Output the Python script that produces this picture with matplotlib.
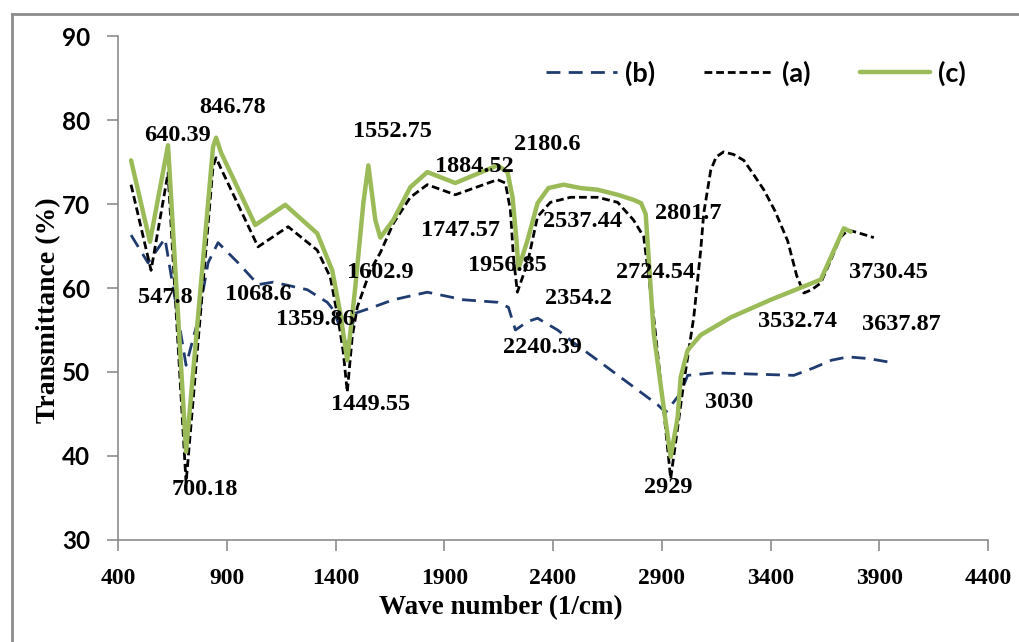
import matplotlib
matplotlib.use("Agg")
import matplotlib.pyplot as plt
from matplotlib.lines import Line2D

# FTIR spectra, wavenumber (1/cm) vs transmittance (%)
wn_b = [460, 538, 616, 713, 768, 814, 860, 952, 1044, 1114, 1270, 1362, 1390, 1454,
        1491, 1560, 1666, 1822, 1988, 2145, 2195, 2227, 2283, 2329, 2421, 2494, 2605,
        2881, 2918, 2987, 3019, 3139, 3507, 3599, 3680, 3756, 3850, 3963]
tr_b = [66.3, 63.0, 65.9, 50.8, 56.2, 63.0, 65.4, 63.0, 60.4, 60.7, 59.8, 58.3, 57.4, 53.0,
        57.0, 57.6, 58.6, 59.5, 58.6, 58.3, 57.7, 55.0, 56.0, 56.4, 55.0, 53.5, 51.4,
        46.1, 45.2, 47.5, 49.6, 49.9, 49.6, 50.5, 51.4, 51.8, 51.6, 51.1]

wn_a = [460, 552, 630, 713, 837, 851, 874, 1044, 1182, 1316, 1376, 1413, 1436,
        1454, 1477, 1500, 1560, 1606, 1666, 1744, 1822, 1951, 2145, 2181, 2204, 2218, 2236,
        2283, 2329, 2388, 2481, 2605, 2697, 2770, 2817, 2863, 2904, 2941, 3001, 3047, 3079,
        3093, 3125, 3150, 3184, 3230, 3277, 3320, 3369, 3420, 3479, 3520, 3553, 3590, 3631,
        3677, 3720, 3756, 3800, 3875]
tr_a = [72.3, 62.1, 73.7, 36.8, 74.5, 75.5, 74.2, 64.9, 67.3, 64.5, 61.3, 56.2,
        52.3, 47.6, 54.2, 57.7, 62.1, 64.2, 67.7, 70.8, 72.3, 71.1, 72.9, 72.5, 69.3, 63.7,
        59.5, 63.0, 68.5, 70.2, 70.8, 70.8, 70.2, 68.1, 66.1, 56.5, 46.7, 37.3, 48.7, 56.5,
        64.5, 68.9, 74.0, 75.6, 76.2, 75.9, 75.2, 73.6, 71.7, 69.2, 65.6, 61.5, 59.4, 59.8,
        60.6, 63.3, 66.0, 66.9, 66.6, 66.0]

wn_c = [460, 547, 630, 713, 837, 851, 874, 1031, 1169, 1316, 1385, 1422, 1454,
        1491, 1528, 1551, 1583, 1606, 1666, 1744, 1822, 1951, 2145, 2191, 2214, 2232, 2241,
        2283, 2329, 2379, 2448, 2527, 2605, 2697, 2770, 2805, 2826, 2840, 2863, 2904, 2941,
        2973, 2987, 3019, 3079, 3217, 3401, 3631, 3737, 3769]
tr_c = [75.2, 65.5, 77.0, 40.5, 76.8, 77.9, 76.1, 67.5, 69.9, 66.5, 62.1, 57.0,
        51.4, 60.1, 70.1, 74.6, 68.1, 66.0, 68.1, 72.0, 73.8, 72.5, 74.6, 73.8, 70.8, 65.7,
        62.3, 65.7, 70.1, 71.9, 72.3, 71.9, 71.7, 71.1, 70.5, 70.1, 68.8, 63.5, 54.6, 46.7,
        39.9, 44.6, 49.4, 52.6, 54.4, 56.5, 58.6, 61.0, 67.1, 66.7]

# peak annotations: text, x, y
peak_text = ["846.78", "640.39", "1552.75", "1884.52", "2180.6", "1747.57", "2537.44",
             "2801.7", "547.8", "1068.6", "1359.86", "1602.9", "1449.55", "700.18",
             "1956.85", "2240.39", "2354.2", "2724.54", "3730.45", "3532.74", "3637.87",
             "3030", "2929"]
peak_x = [925, 672, 1661, 2039, 2375, 1974, 2536, 3024, 616, 1044, 1307, 1606, 1560, 800,
          2191, 2352, 2517, 2872, 3944, 3525, 4000, 3208, 2932]
peak_y = [81.5, 78.2, 78.6, 74.5, 77.1, 66.9, 67.9, 68.9, 58.9, 59.2, 56.2, 61.9, 46.1, 36.0,
          62.7, 52.9, 58.8, 61.9, 61.8, 56.0, 55.6, 46.4, 36.3]

x_ticks = [400, 900, 1400, 1900, 2400, 2900, 3400, 3900, 4400]
y_ticks = [30, 40, 50, 60, 70, 80, 90]

NAVY = "#1f3b70"
GREEN = "#9bbb59"
GRAY = "#8c8c8c"
SERIF = "Liberation Serif"
SANS = "Lato"

fig = plt.figure(figsize=(10.19, 6.42), dpi=100)
ax = fig.add_axes([0.1158, 0.1589, 0.8538, 0.7850])

ax.plot(wn_b, tr_b, color=NAVY, lw=2.0, dashes=(5, 3), label="(b)")
ax.plot(wn_a, tr_a, color="black", lw=2.0, dashes=(2.8, 1.4), label="(a)")
ax.plot(wn_c, tr_c, color=GREEN, lw=3.2, label="(c)", solid_capstyle="round",
        solid_joinstyle="round")

for t, x, y in zip(peak_text, peak_x, peak_y):
    ax.text(x, y, t, ha="center", va="center", fontsize=17.5, fontweight="bold",
            family=SERIF, color="black")

ax.set_xlim(400, 4400)
ax.set_ylim(30, 90)
ax.set_xticks(x_ticks)
ax.set_yticks(y_ticks)
ax.set_xticklabels([str(v) for v in x_ticks], family=SERIF, fontweight="bold", fontsize=17)
ax.set_yticklabels([str(v) for v in y_ticks], family=SANS, fontweight="bold", fontsize=17.5)
ax.tick_params(axis="both", direction="out", length=8, width=1.2, color=GRAY)
ax.tick_params(axis="x", pad=12)
ax.tick_params(axis="y", pad=12)

for side in ["top", "right"]:
    ax.spines[side].set_visible(False)
for side in ["left", "bottom"]:
    ax.spines[side].set_color(GRAY)
    ax.spines[side].set_linewidth(1.2)

ax.set_xlabel("Wave number (1/cm)", family=SERIF, fontweight="bold", fontsize=19.5, va="center")
ax.set_ylabel("Transmittance (%)", family=SERIF, fontweight="bold", fontsize=20, va="center")
ax.xaxis.set_label_coords(0.44, -0.135)
ax.yaxis.set_label_coords(-0.08, 0.456)

leg = fig.legend(loc="center", bbox_to_anchor=(0.742, 0.886), ncol=3, frameon=False,
                 handlelength=2.6, handletextpad=0.3, columnspacing=1.8,
                 prop={"family": SANS, "weight": "bold", "size": 19.5})

# grey outer frame of the chart area
fig.add_artist(Line2D([12 / 1019, 12 / 1019], [-0.1, 1 - 14 / 642], transform=fig.transFigure,
                      color=GRAY, lw=2.0))
fig.add_artist(Line2D([12 / 1019, 1.1], [1 - 14 / 642, 1 - 14 / 642], transform=fig.transFigure,
                      color=GRAY, lw=2.0))

fig.savefig("out.png", dpi=100)
